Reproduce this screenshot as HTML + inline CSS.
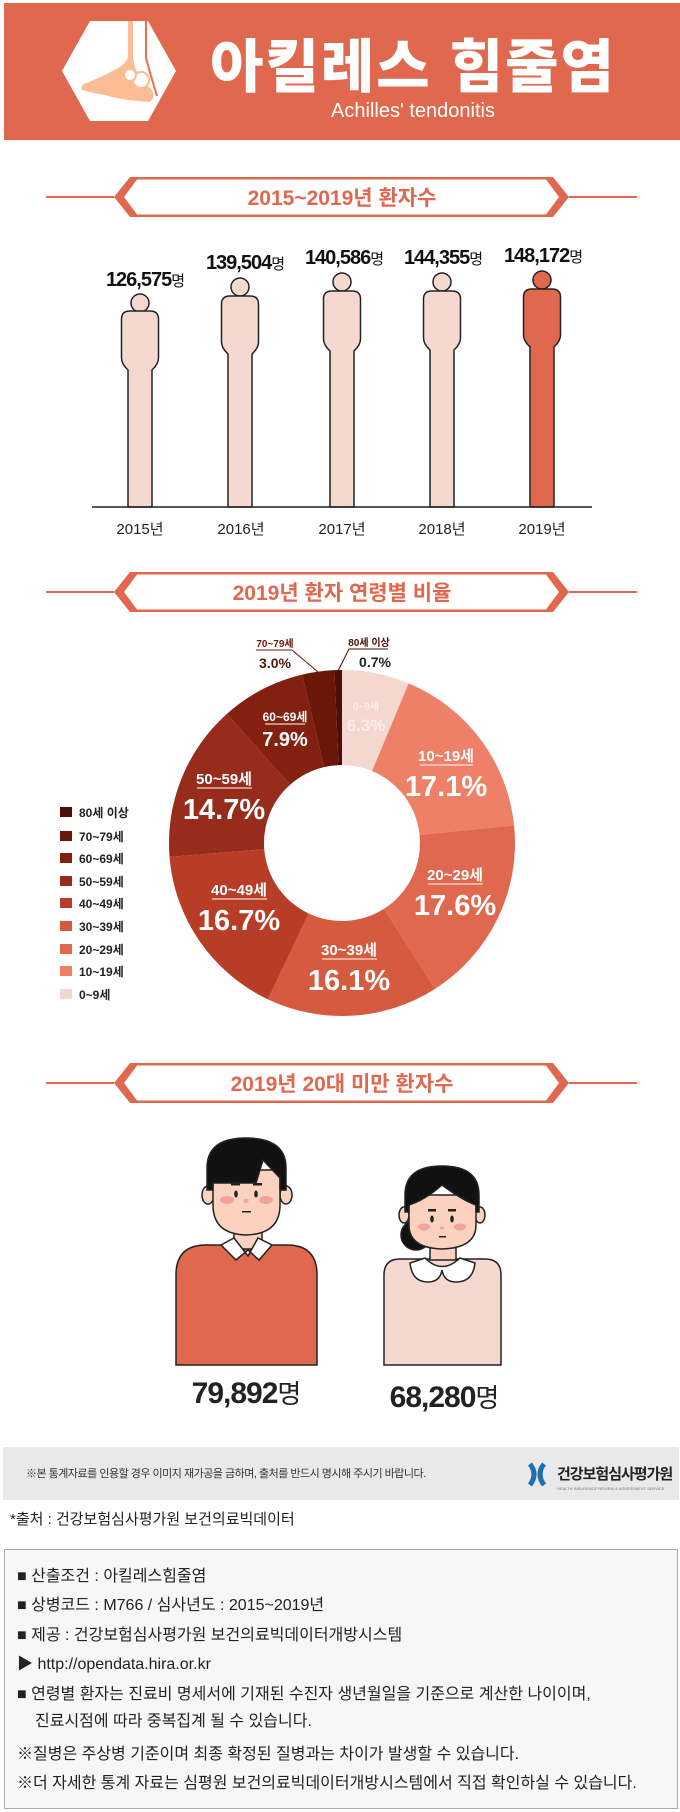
<!DOCTYPE html>
<html><head><meta charset="utf-8"><style>
html,body{margin:0;padding:0;background:#fff;}
svg{display:block;}
text{font-family:"Liberation Sans","Noto Sans CJK KR",sans-serif;}
</style></head><body>
<svg width="680" height="1812" viewBox="0 0 680 1812" xmlns="http://www.w3.org/2000/svg">
<defs>
<g id="banner">
<line x1="46" y1="0" x2="114" y2="0" stroke="#e0684e" stroke-width="2"/>
<line x1="569" y1="0" x2="637" y2="0" stroke="#e0684e" stroke-width="2"/>
<polygon points="114,0 130,-20 553,-20 569,0 553,20 130,20" fill="#e0684e"/>
<polygon points="124,0 137,-17.5 546,-17.5 559,0 546,17.5 137,17.5" fill="#fff"/>
</g>
</defs>
<!-- header -->
<rect x="4" y="3" width="676" height="137" fill="#e0684e"/>
<polygon points="62,71 90,21 148,21 176,71 148,121 90,121" fill="#fff"/>
<path d="M133,21 V58 Q136,78 150,88 Q157,96 150,102 Q120,100 105,95 Q92,93 82,90 H82 Q80,86 84,84 Q100,78 118,68 Q128,62 128,55 V21 Z" fill="#fdbd94"/>
<path d="M146,21 V58 Q152,80 157,96" fill="none" stroke="#f26b4b" stroke-width="2"/>
<circle cx="141" cy="80" r="8" fill="#fff" stroke="#fdbd94" stroke-width="2"/>
<circle cx="130" cy="75" r="6" fill="#fff" stroke="#fdbd94" stroke-width="2"/>
<text x="413" y="87" text-anchor="middle" font-size="58" font-weight="900" fill="#fff" letter-spacing="2">아킬레스 힘줄염</text>
<text x="413" y="117" text-anchor="middle" font-size="20" fill="#fff">Achilles' tendonitis</text>

<!-- section 1 -->
<use href="#banner" transform="translate(0,197)"/>
<text x="342" y="205" text-anchor="middle" font-size="21" font-weight="bold" fill="#e0684e">2015~2019년 환자수</text>

<g stroke="#222" stroke-width="1.5">
<circle cx="140" cy="303" r="9" fill="#f5d9d1"/>
<path d="M128,507 V370 Q121.5,364 121.5,358 V319 Q121.5,311 130,311 H150 Q158.5,311 158.5,319 V358 Q158.5,364 152,370 V507 Z" fill="#f5d9d1"/>
<circle cx="240" cy="287" r="9" fill="#f5d9d1"/>
<path d="M228,507 V354 Q221.5,348 221.5,342 V304 Q221.5,296 230,296 H250 Q258.5,296 258.5,304 V342 Q258.5,348 252,354 V507 Z" fill="#f5d9d1"/>
<circle cx="342" cy="282" r="9" fill="#f5d9d1"/>
<path d="M330,507 V351 Q323.5,345 323.5,339 V299 Q323.5,291 332,291 H352 Q360.5,291 360.5,299 V339 Q360.5,345 354,351 V507 Z" fill="#f5d9d1"/>
<circle cx="442" cy="282" r="9" fill="#f5d9d1"/>
<path d="M430,507 V350 Q423.5,344 423.5,338 V299 Q423.5,291 432,291 H452 Q460.5,291 460.5,299 V338 Q460.5,344 454,350 V507 Z" fill="#f5d9d1"/>
<circle cx="542" cy="280" r="9" fill="#e0684e"/>
<path d="M530,507 V347 Q523.5,341 523.5,335 V297 Q523.5,289 532,289 H552 Q560.5,289 560.5,297 V335 Q560.5,341 554,347 V507 Z" fill="#e0684e"/>
</g>
<line x1="92" y1="507" x2="592" y2="507" stroke="#222" stroke-width="1.5"/>
<g font-size="20" font-weight="bold" fill="#111" text-anchor="middle" letter-spacing="-1">
<text x="145" y="286">126,575<tspan font-size="15" font-weight="normal">명</tspan></text>
<text x="245" y="269">139,504<tspan font-size="15" font-weight="normal">명</tspan></text>
<text x="344" y="264">140,586<tspan font-size="15" font-weight="normal">명</tspan></text>
<text x="443" y="264">144,355<tspan font-size="15" font-weight="normal">명</tspan></text>
<text x="543" y="262">148,172<tspan font-size="15" font-weight="normal">명</tspan></text>
</g>
<g font-size="15" fill="#222" text-anchor="middle">
<text x="140" y="534">2015년</text><text x="241" y="534">2016년</text><text x="342" y="534">2017년</text><text x="442" y="534">2018년</text><text x="542" y="534">2019년</text>
</g>

<!-- section 2 -->
<use href="#banner" transform="translate(0,592)"/>
<text x="342" y="600" text-anchor="middle" font-size="21" font-weight="bold" fill="#e0684e">2019년 환자 연령별 비율</text>

<path d="M342,670 A173,173 0 0 1 408.66,683.36 L372.05,771.02 A78,78 0 0 0 342,765 Z" fill="#f4d8d0"/>
<path d="M408.66,683.36 A173,173 0 0 1 514.10,825.39 L419.59,835.06 A78,78 0 0 0 372.05,771.02 Z" fill="#ee8068"/>
<path d="M514.10,825.39 A173,173 0 0 1 435.09,988.82 L383.97,908.75 A78,78 0 0 0 419.59,835.06 Z" fill="#e0684e"/>
<path d="M435.09,988.82 A173,173 0 0 1 267.90,999.32 L308.59,913.48 A78,78 0 0 0 383.97,908.75 Z" fill="#d65a3f"/>
<path d="M267.90,999.32 A173,173 0 0 1 169.55,856.82 L264.25,849.23 A78,78 0 0 0 308.59,913.48 Z" fill="#b83d27"/>
<path d="M169.55,856.82 A173,173 0 0 1 226.89,713.86 L290.10,784.77 A78,78 0 0 0 264.25,849.23 Z" fill="#972c1c"/>
<path d="M226.89,713.86 A173,173 0 0 1 302.21,674.64 L324.06,767.09 A78,78 0 0 0 290.10,784.77 Z" fill="#83200f"/>
<path d="M302.21,674.64 A173,173 0 0 1 334.42,670.17 L338.58,765.08 A78,78 0 0 0 324.06,767.09 Z" fill="#6a1709"/>
<path d="M334.42,670.17 A173,173 0 0 1 342,670 L342,765 A78,78 0 0 0 338.58,765.08 Z" fill="#4a0f06"/>

<path d="M256,650 H292 L318,672" fill="none" stroke="#6a1709" stroke-width="1"/>
<path d="M388,649 H349 L338,671" fill="none" stroke="#4a0f06" stroke-width="1"/>
<g text-anchor="middle" font-weight="bold">
<text x="275" y="647" font-size="10" fill="#6a1709">70~79세</text>
<text x="275" y="668" font-size="14" fill="#4a1a10">3.0%</text>
<text x="369" y="646" font-size="10" fill="#4a0f06">80세 이상</text>
<text x="375" y="667" font-size="14" fill="#222">0.7%</text>
<g fill="#fff">
<text x="366" y="710" font-size="10" fill="#fbeee9">0~9세</text>
<text x="366" y="731" font-size="17" fill="#fbeee9">6.3%</text>
<text x="446" y="761" font-size="15">10~19세</text><line x1="420" y1="765" x2="473" y2="765" stroke="#fff"/>
<text x="446" y="796" font-size="29">17.1%</text>
<text x="455" y="880" font-size="15">20~29세</text><line x1="428" y1="884" x2="483" y2="884" stroke="#fff"/>
<text x="455" y="915" font-size="29">17.6%</text>
<text x="349" y="955" font-size="15">30~39세</text><line x1="322" y1="959" x2="377" y2="959" stroke="#fff"/>
<text x="349" y="990" font-size="29">16.1%</text>
<text x="239" y="895" font-size="15">40~49세</text><line x1="212" y1="899" x2="267" y2="899" stroke="#fff"/>
<text x="239" y="930" font-size="29">16.7%</text>
<text x="224" y="784" font-size="15">50~59세</text><line x1="197" y1="788" x2="252" y2="788" stroke="#fff"/>
<text x="224" y="819" font-size="29">14.7%</text>
<text x="285" y="721" font-size="12">60~69세</text><line x1="265" y1="724" x2="305" y2="724" stroke="#fff"/>
<text x="285" y="746" font-size="20">7.9%</text>
</g></g>

<g font-size="12" font-weight="bold" fill="#222">
<rect x="60" y="807" width="12" height="10" fill="#4a0f06"/><text x="79" y="817">80세 이상</text>
<rect x="60" y="831" width="12" height="10" fill="#6a1709"/><text x="79" y="841">70~79세</text>
<rect x="60" y="853" width="12" height="10" fill="#83200f"/><text x="79" y="863">60~69세</text>
<rect x="60" y="876" width="12" height="10" fill="#972c1c"/><text x="79" y="886">50~59세</text>
<rect x="60" y="898" width="12" height="10" fill="#b83d27"/><text x="79" y="908">40~49세</text>
<rect x="60" y="921" width="12" height="10" fill="#d65a3f"/><text x="79" y="931">30~39세</text>
<rect x="60" y="944" width="12" height="10" fill="#e0684e"/><text x="79" y="954">20~29세</text>
<rect x="60" y="966" width="12" height="10" fill="#ee8068"/><text x="79" y="976">10~19세</text>
<rect x="60" y="989" width="12" height="10" fill="#f4d8d0"/><text x="79" y="999">0~9세</text>
</g>

<!-- section 3 -->
<use href="#banner" transform="translate(0,1083)"/>
<text x="342" y="1091" text-anchor="middle" font-size="21" font-weight="bold" fill="#e0684e">2019년 20대 미만 환자수</text>

<g stroke="#222" stroke-width="1.5">
<path d="M176,1365 V1275 Q176,1245 206,1245 H287 Q317,1245 317,1275 V1365 Z" fill="#e0684e"/>
<rect x="234" y="1225" width="28" height="24" fill="#fbd1bf"/>
<path d="M221,1245 L234,1238 L248,1256 L258,1238 L272,1245 L259,1260 L248,1250 L236,1260 Z" fill="#fff"/>
<ellipse cx="208" cy="1195" rx="6" ry="9" fill="#fbd1bf"/>
<ellipse cx="286" cy="1195" rx="6" ry="9" fill="#fbd1bf"/>
<path d="M213,1170 V1205 Q213,1234 246,1235 Q280,1234 280,1205 V1170 Z" fill="#fbd1bf"/>
<path d="M207,1190 V1168 Q207,1138 246,1138 Q286,1138 286,1168 V1190 H280 V1178 L263,1160 L256,1183 H213 V1190 Z" fill="#111"/>
<path d="M384,1365 V1275 Q384,1259 400,1259 H485 Q501,1259 501,1275 V1365 Z" fill="#f5d9d1"/>
<rect x="430" y="1240" width="26" height="20" fill="#fbd1bf"/>
<circle cx="416" cy="1235" r="15" fill="#111"/>
<ellipse cx="404" cy="1215" rx="5" ry="8" fill="#fbd1bf"/>
<ellipse cx="480" cy="1215" rx="5" ry="8" fill="#fbd1bf"/>
<path d="M409,1195 V1225 Q409,1248 442,1249 Q476,1248 476,1225 V1195 Z" fill="#fbd1bf"/>
<path d="M405,1212 V1195 Q405,1166 442,1166 Q479,1166 479,1195 V1212 H476 V1205 Q462,1200 442,1185 Q425,1200 409,1205 V1212 Z" fill="#111"/>
<path d="M410,1263 Q412,1282 428,1282 Q440,1282 442,1270 Q444,1282 456,1282 Q473,1282 475,1263 L460,1258 Q442,1275 425,1258 Z" fill="#fff"/>
</g>
<g fill="#222">
<rect x="231" y="1183" width="9" height="2.5"/><rect x="253" y="1183" width="9" height="2.5"/>
<ellipse cx="236" cy="1194" rx="1.8" ry="3.5"/><ellipse cx="256" cy="1194" rx="1.8" ry="3.5"/>
<rect x="242" y="1211" width="9" height="1.5"/>
<rect x="428" y="1209" width="8" height="2.5"/><rect x="448" y="1209" width="8" height="2.5"/>
<ellipse cx="432" cy="1219" rx="1.8" ry="3.5"/><ellipse cx="452" cy="1219" rx="1.8" ry="3.5"/>
<rect x="439" y="1236" width="7" height="1.5"/>
</g>
<g fill="#ee9a94" opacity="0.8">
<ellipse cx="227" cy="1200" rx="7" ry="4"/><ellipse cx="266" cy="1200" rx="7" ry="4"/>
<ellipse cx="246" cy="1201" rx="2.5" ry="2"/>
<ellipse cx="424" cy="1227" rx="6" ry="3.5"/><ellipse cx="460" cy="1227" rx="6" ry="3.5"/>
<ellipse cx="442" cy="1228" rx="2" ry="1.5"/>
</g>
<g font-size="30" font-weight="bold" fill="#222" text-anchor="middle" letter-spacing="-1">
<text x="246" y="1403">79,892<tspan font-size="26" font-weight="normal">명</tspan></text>
<text x="444" y="1407">68,280<tspan font-size="26" font-weight="normal">명</tspan></text>
</g>

<rect x="3" y="1447" width="676" height="53" fill="#e9e9e9"/>
<text x="26" y="1477" font-size="11" fill="#333" letter-spacing="-0.5">※본 통계자료를 인용할 경우 이미지 재가공을 금하며, 출처를 반드시 명시해 주시기 바랍니다.</text>
<path d="M530,1464 Q538,1474 530,1485 M544,1464 Q536,1474 544,1485" stroke="#1c6fb3" stroke-width="5" fill="none"/>
<text x="557" y="1479" font-size="15" font-weight="bold" fill="#222" letter-spacing="-1">건강보험심사평가원</text>
<text x="557" y="1490" font-size="4" fill="#777">HEALTH INSURANCE REVIEW &amp; ASSESSMENT SERVICE</text>
<text x="10" y="1524" font-size="15" fill="#222">*출처 : 건강보험심사평가원 보건의료빅데이터</text>

<rect x="4.5" y="1549.5" width="673" height="259" fill="#f7f7f7" stroke="#aaa"/>
<g font-size="16" fill="#222">
<text x="17" y="1581">■ 산출조건 : 아킬레스힘줄염</text>
<text x="17" y="1610">■ 상병코드 : M766 / 심사년도 : 2015~2019년</text>
<text x="17" y="1640">■ 제공 : 건강보험심사평가원 보건의료빅데이터개방시스템</text>
<text x="17" y="1669">▶ http://opendata.hira.or.kr</text>
<text x="17" y="1699">■ 연령별 환자는 진료비 명세서에 기재된 수진자 생년월일을 기준으로 계산한 나이이며,</text>
<text x="35" y="1726">진료시점에 따라 중복집계 될 수 있습니다.</text>
<text x="17" y="1759">※질병은 주상병 기준이며 최종 확정된 질병과는 차이가 발생할 수 있습니다.</text>
<text x="17" y="1788">※더 자세한 통계 자료는 심평원 보건의료빅데이터개방시스템에서 직접 확인하실 수 있습니다.</text>
</g>
</svg>
</body></html>
